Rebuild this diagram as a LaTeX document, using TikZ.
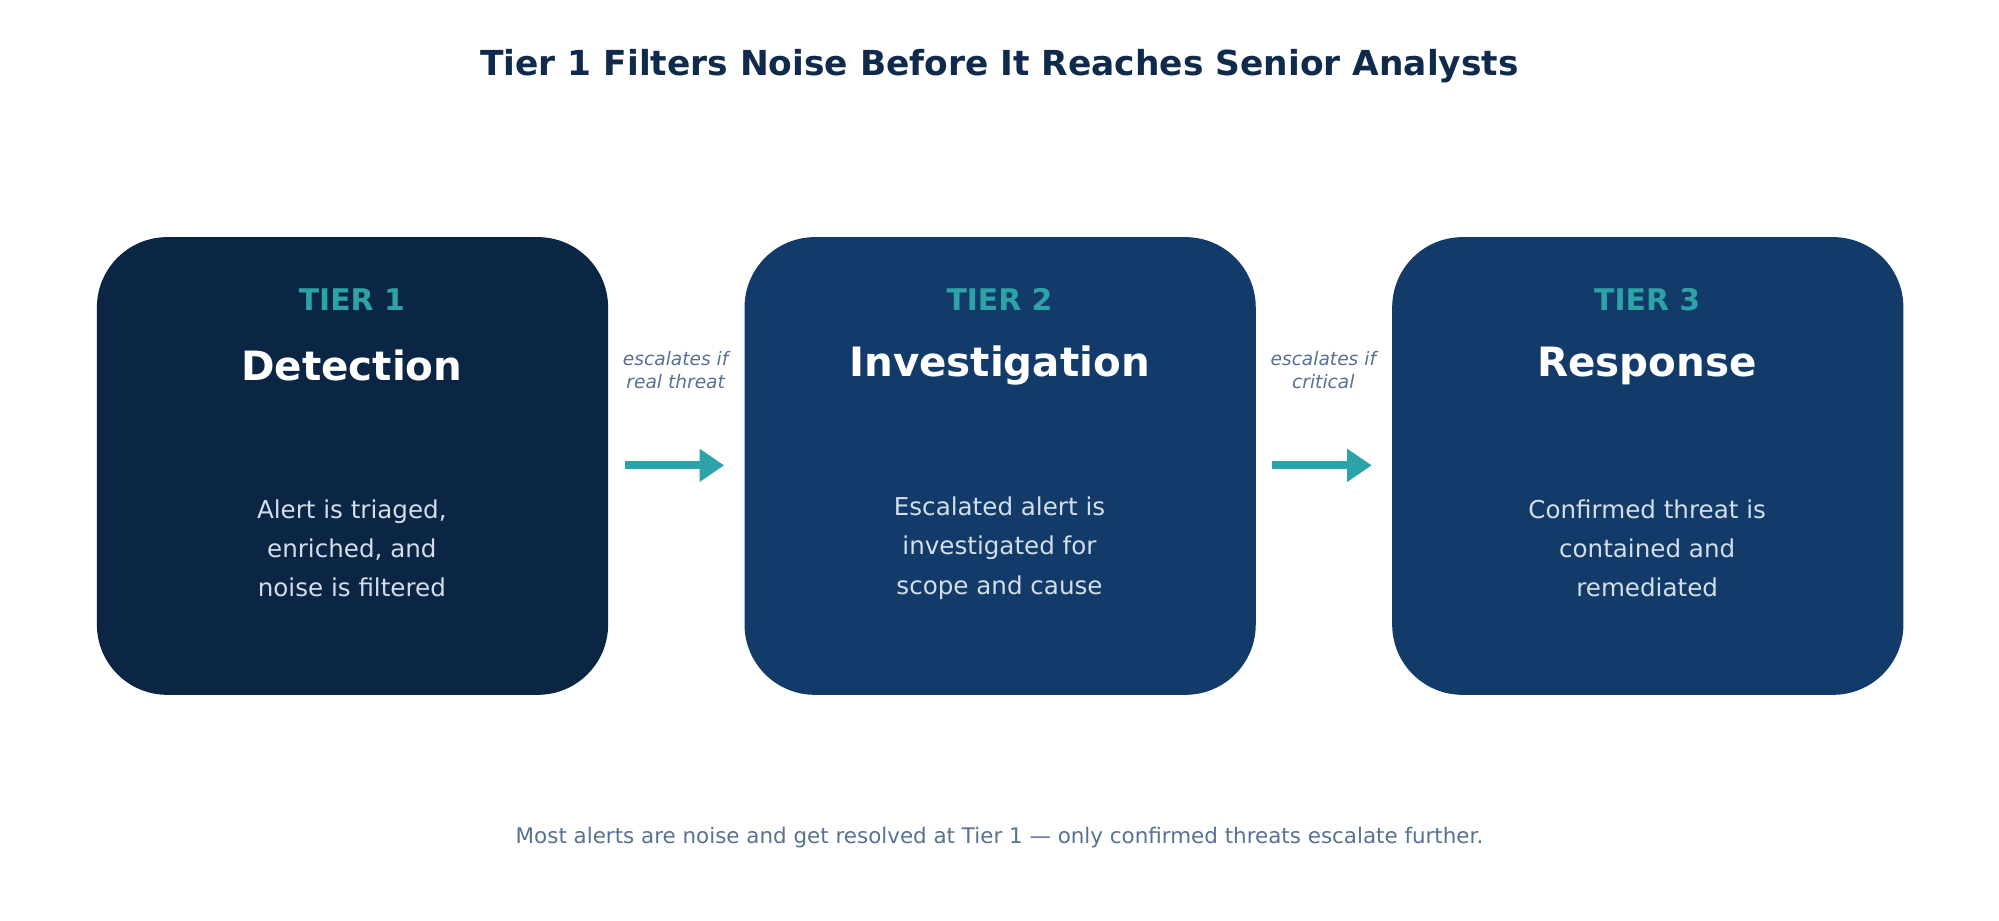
\documentclass[tikz,border=0pt]{standalone}
\usepackage{fontspec}
\setmainfont{DejaVu Sans}
\usetikzlibrary{positioning,arrows.meta}
\definecolor{navydark}{HTML}{0B2545}
\definecolor{navy}{HTML}{133B69}
\definecolor{tealc}{HTML}{2CA3A8}
\definecolor{bodyc}{HTML}{D3DEEA}
\definecolor{grayc}{HTML}{587092}
\definecolor{titlec}{HTML}{0F2A4A}
\tikzset{
  tierbox/.style={rounded corners=20, minimum width=401*0.012755cm, minimum height=359*0.012755cm, draw=none},
  tiername/.style={font=\bfseries\fontsize{8.5}{10}\selectfont, text=tealc},
  tiertitle/.style={font=\bfseries\fontsize{11.5}{13}\selectfont, text=white},
  tierbody/.style={font=\fontsize{7}{11.2}\selectfont, text=bodyc, align=center},
  esc/.style={font=\itshape\fontsize{5.3}{6.5}\selectfont, text=grayc, align=center},
  fwd/.style={-{Triangle[length=7pt,width=9pt]}, line width=2.2pt, tealc},
}
\begin{document}
\begin{tikzpicture}[x=0.012755cm, y=-0.012755cm]
  \useasboundingbox (0,0) rectangle (1568,722);
  \node[font=\bfseries\fontsize{9.8}{12}\selectfont, text=titlec] (title) at (784,52) {Tier 1 Filters Noise Before It Reaches Senior Analysts};

  \node[tierbox, fill=navydark] (box1) at (276.5,365.5) {};
  \node[tierbox, fill=navy] (box2) at (784.5,365.5) {};
  \node[tierbox, fill=navy] (box3) at (1292.5,365.5) {};

  \node[tiername] (name1) at (276,235) {TIER 1};
  \node[tiername] (name2) at (784,235) {TIER 2};
  \node[tiername] (name3) at (1292,235) {TIER 3};

  \node[tiertitle] (head1) at (276,287) {Detection};
  \node[tiertitle] (head2) at (784,287) {Investigation};
  \node[tiertitle] (head3) at (1292,287) {Response};

  \node[tierbody] (body1) at (276,430) {Alert is triaged,\\enriched, and\\noise is filtered};
  \node[tierbody] (body2) at (784,430) {Escalated alert is\\investigated for\\scope and cause};
  \node[tierbody] (body3) at (1292,430) {Confirmed threat is\\contained and\\remediated};

  \coordinate (a1s) at (490,365);
  \coordinate (a1e) at (568,365);
  \coordinate (a2s) at (998,365);
  \coordinate (a2e) at (1076,365);
  \draw[fwd] (a1s) -- (a1e);
  \draw[fwd] (a2s) -- (a2e);
  \node[esc] (lab1) at (530,290) {escalates if\\real threat};
  \node[esc] (lab2) at (1038,290) {escalates if\\critical};

  \node[font=\fontsize{6.1}{7}\selectfont, text=grayc] (foot) at (784,657) {Most alerts are noise and get resolved at Tier 1 — only confirmed threats escalate further.};
\end{tikzpicture}
\end{document}
